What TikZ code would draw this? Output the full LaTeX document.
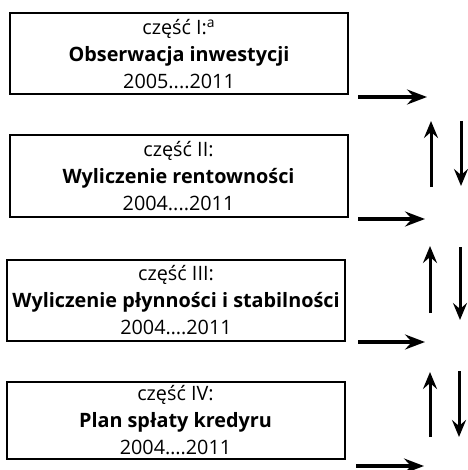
\documentclass[tikz,border=0pt]{standalone}
\usepackage{fontspec}
\setmainfont{Open Sans}
\usetikzlibrary{arrows.meta}
\tikzset{
  partbox/.style={draw, line width=1pt, minimum width=169pt, minimum height=40.5pt,
    align=center, inner sep=0pt, font=\fontsize{9.9}{13.3}\selectfont},
  flowarrow/.style={line width=2.2pt, -{Stealth[length=10pt,width=7.5pt,inset=3.5pt]}},
  linkarrow/.style={line width=1.5pt, -{Stealth[length=8.5pt,width=7pt,inset=3pt]}}
}
\begin{document}
\begin{tikzpicture}[x=0.5pt, y=-0.5pt]
    \useasboundingbox (0, 0) rectangle (467, 470);
    % the four parts
    \node[partbox] (part1) at (179, 54)    {część I:\textsuperscript{a}\\\textbf{Obserwacja inwestycji}\\2005....2011};
    \node[partbox] (part2) at (178.5, 176) {część II:\\\textbf{Wyliczenie rentowności}\\2004....2011};
    \node[partbox] (part3) at (176, 300)   {część III:\\\textbf{Wyliczenie płynności i stabilności}\\2004….2011};
    \node[partbox, minimum height=38.5pt] (part4) at (175.5, 420) {część IV:\\\textbf{Plan spłaty kredyru}\\2004….2011};
    % outgoing arrows
    \coordinate (out1a) at (358, 97);  \coordinate (out1b) at (427, 97);
    \coordinate (out2a) at (358, 219); \coordinate (out2b) at (425, 219);
    \coordinate (out3a) at (358, 342); \coordinate (out3b) at (425, 342);
    \coordinate (out4a) at (356, 466); \coordinate (out4b) at (424, 466);
    \draw[flowarrow] (out1a) -- (out1b);
    \draw[flowarrow] (out2a) -- (out2b);
    \draw[flowarrow] (out3a) -- (out3b);
    \draw[flowarrow] (out4a) -- (out4b);
    % links between parts
    \coordinate (up1a) at (431, 187);   \coordinate (up1b) at (431, 121);
    \coordinate (down1a) at (461, 121); \coordinate (down1b) at (461, 186);
    \coordinate (up2a) at (430, 313);   \coordinate (up2b) at (430, 246);
    \coordinate (down2a) at (460, 247); \coordinate (down2b) at (460, 320);
    \coordinate (up3a) at (430, 437);   \coordinate (up3b) at (430, 372);
    \coordinate (down3a) at (459, 371); \coordinate (down3b) at (459, 437);
    \draw[linkarrow] (up1a) -- (up1b);
    \draw[linkarrow] (down1a) -- (down1b);
    \draw[linkarrow] (up2a) -- (up2b);
    \draw[linkarrow] (down2a) -- (down2b);
    \draw[linkarrow] (up3a) -- (up3b);
    \draw[linkarrow] (down3a) -- (down3b);
\end{tikzpicture}
\end{document}
